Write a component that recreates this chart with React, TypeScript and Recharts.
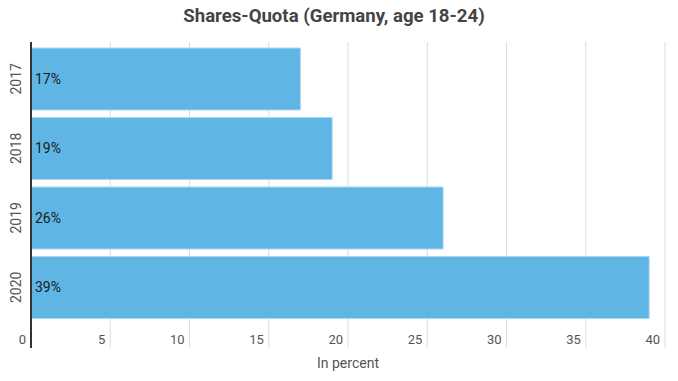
import React from 'react'
import { BarChart, Bar, XAxis, YAxis, CartesianGrid, LabelList } from 'recharts'

const years = ['2017', '2018', '2019', '2020']
const shares = [17, 19, 26, 39]
const xTicks = [0, 5, 10, 15, 20, 25, 30, 35, 40]

const data = years.map((y, i) => ({ year: y, value: shares[i] }))

const font = 'Roboto, "Noto Sans", sans-serif'

function XTick({ x, y, payload }: any) {
  return (
    <text x={x - 5} y={y - 4} textAnchor="end" fontSize={13} fill="#555" fontFamily={font}>
      {payload.value}
    </text>
  )
}

function YTick({ x, y, payload }: any) {
  return (
    <text
      x={x - 15}
      y={y}
      textAnchor="middle"
      dominantBaseline="central"
      fontSize={14}
      fill="#555"
      fontFamily={font}
      transform={`rotate(-90, ${x - 15}, ${y})`}
    >
      {payload.value}
    </text>
  )
}

export default function App() {
  return (
    <div style={{ position: 'absolute', left: 0, top: 0, width: 678, height: 381, background: '#fff', fontFamily: font }}>
      <div
        style={{
          position: 'absolute',
          top: 5,
          left: 0,
          width: 668,
          textAlign: 'center',
          fontSize: 18.6,
          fontWeight: 'bold',
          color: '#444',
        }}
      >
        Shares-Quota (Germany, age 18-24)
      </div>
      <BarChart
        width={678}
        height={381}
        data={data}
        layout="vertical"
        margin={{ top: 42, right: 13, bottom: 0, left: 0 }}
      >
        <CartesianGrid horizontal={false} stroke="#dcdcdc" />
        <XAxis
          type="number"
          domain={[0, 40]}
          ticks={xTicks}
          axisLine={false}
          tickLine={false}
          tickSize={0}
          tickMargin={0}
          height={33}
          tick={<XTick />}
          label={{ value: 'In percent', position: 'insideBottom', offset: 13, fontSize: 14, fill: '#555', fontFamily: font }}
        />
        <YAxis
          type="category"
          dataKey="year"
          width={31}
          axisLine={{ stroke: '#333', strokeWidth: 2 }}
          tickLine={false}
          tickSize={0}
          tickMargin={0}
          padding={{ top: 2, bottom: 26 }}
          tick={<YTick />}
        />
        <Bar dataKey="value" fill="#5fb5e4" stroke="#a9d9f3" strokeWidth={1} barSize={62} isAnimationActive={false}>
          <LabelList
            dataKey="value"
            position="insideLeft"
            offset={4}
            formatter={(v: any) => `${v}%`}
            style={{ fontSize: 14, fill: '#1a1a1a', fontFamily: font, fontWeight: 400 }}
          />
        </Bar>
      </BarChart>
    </div>
  )
}
